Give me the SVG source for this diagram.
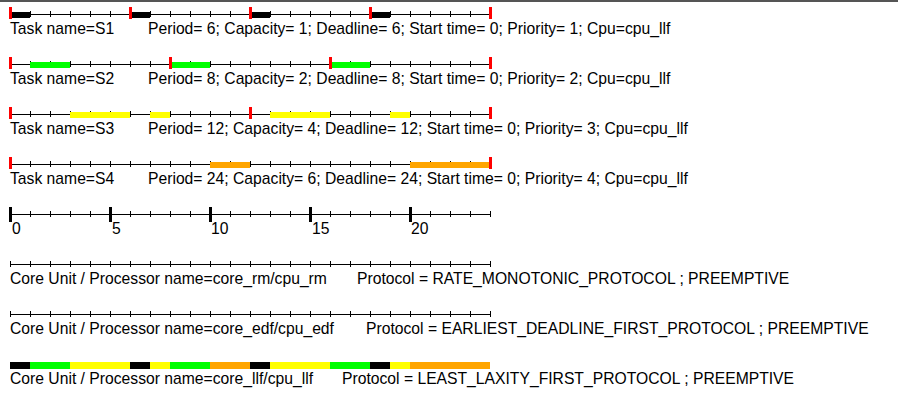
<svg xmlns="http://www.w3.org/2000/svg" width="898" height="402" viewBox="0 0 898 402">
  <style>
    text { font-family: "Liberation Sans", Arial, sans-serif; font-size: 15.7px; fill: #000; }
    .axis { stroke: #000; stroke-width: 1; fill: none; }
    .tick { stroke: #000; stroke-width: 1; fill: none; }
    .deadline { fill: #ff0000; }
    .major { fill: #000; }
    .s1 { fill: #000000; }
    .s2 { fill: #00ff00; }
    .s3 { fill: #ffff00; }
    .s4 { fill: #ffa500; }
  </style>
  <defs>
    <!-- unit ticks: 24 time units, 20 px each, from x=10 to x=490 -->
    <path id="ticks" class="tick" d="M10.5 -3V3 M30.5 -3V3 M50.5 -3V3 M70.5 -3V3 M90.5 -3V3 M110.5 -3V3 M130.5 -3V3 M150.5 -3V3 M170.5 -3V3 M190.5 -3V3 M210.5 -3V3 M230.5 -3V3 M250.5 -3V3 M270.5 -3V3 M290.5 -3V3 M310.5 -3V3 M330.5 -3V3 M350.5 -3V3 M370.5 -3V3 M390.5 -3V3 M410.5 -3V3 M430.5 -3V3 M450.5 -3V3 M470.5 -3V3 M490.5 -3V3"/>
    <g id="timeline">
      <path class="axis" d="M10 0.5H490"/>
      <use href="#ticks"/>
    </g>
    <rect id="dl" class="deadline" x="-1.5" y="-7" width="3" height="12"/>
  </defs>

  <!-- frame top edge -->
  <line x1="0" y1="1" x2="898" y2="1" stroke="#555" stroke-width="2"/>

  <g id="task-S1" transform="translate(0,14)">
    <use href="#timeline"/>
    <rect class="s1" x="10" y="-2" width="20" height="6"/>
    <rect class="s1" x="130" y="-2" width="20" height="6"/>
    <rect class="s1" x="250" y="-2" width="20" height="6"/>
    <rect class="s1" x="370" y="-2" width="20" height="6"/>
    <use href="#dl" x="10.5"/><use href="#dl" x="130.5"/><use href="#dl" x="250.5"/><use href="#dl" x="370.5"/><use href="#dl" x="490.5"/>
    <text x="10" y="19.5">Task name=S1</text>
    <text x="148" y="19.5">Period= 6; Capacity= 1; Deadline= 6; Start time= 0; Priority= 1; Cpu=cpu_llf</text>
  </g>

  <g id="task-S2" transform="translate(0,64)">
    <use href="#timeline"/>
    <rect class="s2" x="30" y="-2" width="40" height="6"/>
    <rect class="s2" x="170" y="-2" width="40" height="6"/>
    <rect class="s2" x="330" y="-2" width="40" height="6"/>
    <use href="#dl" x="10.5"/><use href="#dl" x="170.5"/><use href="#dl" x="330.5"/><use href="#dl" x="490.5"/>
    <text x="10" y="19.5">Task name=S2</text>
    <text x="148" y="19.5">Period= 8; Capacity= 2; Deadline= 8; Start time= 0; Priority= 2; Cpu=cpu_llf</text>
  </g>

  <g id="task-S3" transform="translate(0,114)">
    <use href="#timeline"/>
    <rect class="s3" x="70" y="-2" width="60" height="6"/>
    <rect class="s3" x="150" y="-2" width="20" height="6"/>
    <rect class="s3" x="270" y="-2" width="60" height="6"/>
    <rect class="s3" x="390" y="-2" width="20" height="6"/>
    <use href="#dl" x="10.5"/><use href="#dl" x="250.5"/><use href="#dl" x="490.5"/>
    <text x="10" y="19.5">Task name=S3</text>
    <text x="148" y="19.5">Period= 12; Capacity= 4; Deadline= 12; Start time= 0; Priority= 3; Cpu=cpu_llf</text>
  </g>

  <g id="task-S4" transform="translate(0,164)">
    <use href="#timeline"/>
    <rect class="s4" x="210" y="-2" width="40" height="6"/>
    <rect class="s4" x="410" y="-2" width="80" height="6"/>
    <use href="#dl" x="10.5"/><use href="#dl" x="490.5"/>
    <text x="10" y="19.5">Task name=S4</text>
    <text x="148" y="19.5">Period= 24; Capacity= 6; Deadline= 24; Start time= 0; Priority= 4; Cpu=cpu_llf</text>
  </g>

  <g id="time-scale" transform="translate(0,214)">
    <use href="#timeline"/>
    <rect class="major" x="9" y="-7" width="3" height="15"/>
    <rect class="major" x="109" y="-7" width="3" height="15"/>
    <rect class="major" x="209" y="-7" width="3" height="15"/>
    <rect class="major" x="309" y="-7" width="3" height="15"/>
    <rect class="major" x="409" y="-7" width="3" height="15"/>
    <text x="12" y="19.5">0</text>
    <text x="112" y="19.5">5</text>
    <text x="211" y="19.5">10</text>
    <text x="312" y="19.5">15</text>
    <text x="411" y="19.5">20</text>
  </g>

  <g id="core-rm" transform="translate(0,264)">
    <use href="#timeline"/>
    <text x="10" y="19.5">Core Unit / Processor name=core_rm/cpu_rm</text>
    <text x="357" y="19.5">Protocol = RATE_MONOTONIC_PROTOCOL ; PREEMPTIVE</text>
  </g>

  <g id="core-edf" transform="translate(0,314)">
    <use href="#timeline"/>
    <text x="10" y="19.5">Core Unit / Processor name=core_edf/cpu_edf</text>
    <text x="366" y="19.5">Protocol = EARLIEST_DEADLINE_FIRST_PROTOCOL ; PREEMPTIVE</text>
  </g>

  <g id="core-llf" transform="translate(0,364)">
    <rect class="s1" x="10" y="-2" width="20" height="7"/>
    <rect class="s2" x="30" y="-2" width="40" height="7"/>
    <rect class="s3" x="70" y="-2" width="60" height="7"/>
    <rect class="s1" x="130" y="-2" width="20" height="7"/>
    <rect class="s3" x="150" y="-2" width="20" height="7"/>
    <rect class="s2" x="170" y="-2" width="40" height="7"/>
    <rect class="s4" x="210" y="-2" width="40" height="7"/>
    <rect class="s1" x="250" y="-2" width="20" height="7"/>
    <rect class="s3" x="270" y="-2" width="60" height="7"/>
    <rect class="s2" x="330" y="-2" width="40" height="7"/>
    <rect class="s1" x="370" y="-2" width="20" height="7"/>
    <rect class="s3" x="390" y="-2" width="20" height="7"/>
    <rect class="s4" x="410" y="-2" width="80" height="7"/>
    <text x="10" y="19.5">Core Unit / Processor name=core_llf/cpu_llf</text>
    <text x="342" y="19.5">Protocol = LEAST_LAXITY_FIRST_PROTOCOL ; PREEMPTIVE</text>
  </g>
</svg>
